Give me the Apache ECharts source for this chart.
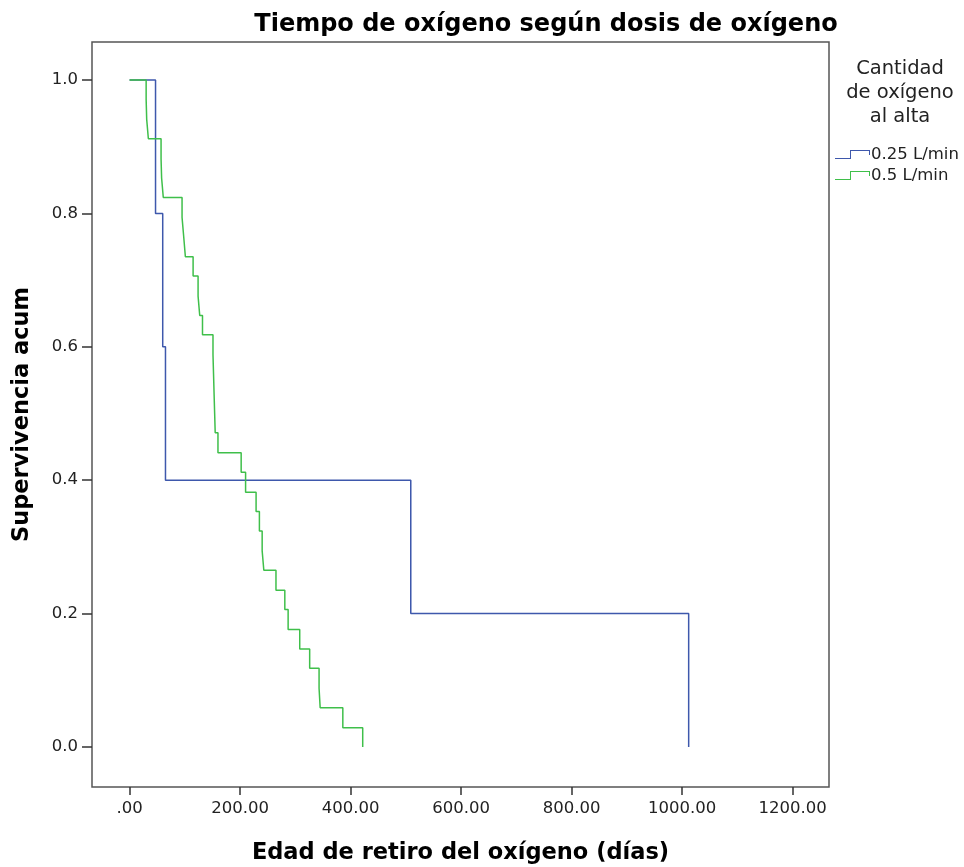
<!DOCTYPE html>
<html>
<head>
<meta charset="utf-8">
<script src="https://cdn.jsdelivr.net/npm/echarts@6/dist/echarts.min.js"></script>
<style>
  html, body { margin: 0; padding: 0; background: #fff; }
  #chart { width: 964px; height: 867px; }
</style>
</head>
<body>
<div id="chart"></div>
<script>
// tiempos (días) y supervivencia acumulada después de cada evento
const blueTimes = [0, 47, 60, 65, 509, 1012]
const blueSurv = [1.0, 0.8, 0.6, 0.4, 0.2, 0.0]

const greenTimes = [0, 30, 31, 34, 57, 58, 61, 95, 98, 101, 115, 124, 127, 132,
  151, 152, 153, 154, 155, 160, 202, 210, 229, 235, 240, 243, 265, 281, 287,
  308, 326, 343, 345, 386, 422]
const greenSurv = [1.0, 0.971, 0.941, 0.912, 0.882, 0.853, 0.824, 0.794, 0.765,
  0.735, 0.706, 0.676, 0.647, 0.618, 0.588, 0.559, 0.529, 0.5, 0.471, 0.441,
  0.412, 0.382, 0.353, 0.324, 0.294, 0.265, 0.235, 0.206, 0.176, 0.147, 0.118,
  0.088, 0.059, 0.029, 0.0]

const xTicks = [0, 200, 400, 600, 800, 1000, 1200]
const yTicks = [0, 0.2, 0.4, 0.6, 0.8, 1.0]
const seriesNames = ['0.25 L/min', '0.5 L/min']

const font = 'DejaVu Sans, sans-serif'
const zip = (xs, ys) => xs.map((x, i) => [x, ys[i]])
const stepIcon = 'path://M0,8 L15,8 L15,0 L35,0 L35,5 L34,5 L34,1 L16,1 L16,9 L0,9 Z'

const chart = echarts.init(document.getElementById('chart'))
chart.setOption({
  backgroundColor: '#fff',
  animation: false,
  title: [
    {
      text: 'Tiempo de oxígeno según dosis de oxígeno',
      left: 541,
      top: 8,
      textAlign: 'center',
      textStyle: { fontFamily: font, fontSize: 24, fontWeight: 'bold', color: '#000' }
    },
    {
      text: 'Cantidad\nde oxígeno\nal alta',
      left: 895,
      top: 52,
      textAlign: 'center',
      textStyle: { fontFamily: font, fontSize: 19.5, fontWeight: 'normal', color: '#222', lineHeight: 24 }
    }
  ],
  legend: {
    data: seriesNames,
    orient: 'vertical',
    left: 830,
    top: 141,
    itemGap: 4,
    itemWidth: 35,
    itemHeight: 9,
    icon: stepIcon,
    textStyle: { fontFamily: font, fontSize: 16.5, color: '#222', padding: [0, 0, 0, -4] }
  },
  grid: {
    left: 92,
    right: 135,
    top: 42,
    bottom: 80,
    containLabel: false,
    outerBoundsMode: 'none',
    show: true,
    borderColor: '#555',
    borderWidth: 1.5
  },
  xAxis: {
    type: 'value',
    min: -68,
    max: 1266,
    name: 'Edad de retiro del oxígeno (días)',
    nameLocation: 'middle',
    nameGap: 55,
    nameTextStyle: { fontFamily: font, fontSize: 22.5, fontWeight: 'bold', color: '#000' },
    axisLine: { show: false, onZero: false },
    axisTick: { show: true, length: 8, customValues: xTicks, lineStyle: { color: '#333', width: 1.5 } },
    axisLabel: {
      customValues: xTicks,
      margin: 13,
      fontFamily: font,
      fontSize: 16.5,
      color: '#222',
      formatter: v => (v === 0 ? '.00' : v.toFixed(2))
    },
    splitLine: { show: false }
  },
  yAxis: {
    type: 'value',
    min: -0.06,
    max: 1.057,
    name: 'Supervivencia acum',
    nameLocation: 'middle',
    nameGap: 58,
    nameTextStyle: { fontFamily: font, fontSize: 22.5, fontWeight: 'bold', color: '#000' },
    axisLine: { show: false, onZero: false },
    axisTick: { show: true, length: 10, customValues: yTicks, lineStyle: { color: '#333', width: 1.5 } },
    axisLabel: {
      customValues: yTicks,
      margin: 14,
      fontFamily: font,
      fontSize: 16.5,
      color: '#222',
      formatter: v => v.toFixed(1)
    },
    splitLine: { show: false }
  },
  series: [
    {
      name: seriesNames[0],
      type: 'line',
      step: 'end',
      data: zip(blueTimes, blueSurv),
      showSymbol: false,
      symbol: 'none',
      color: '#3e58ac',
      lineStyle: { color: '#3e58ac', width: 1.5 }
    },
    {
      name: seriesNames[1],
      type: 'line',
      step: 'end',
      data: zip(greenTimes, greenSurv),
      showSymbol: false,
      symbol: 'none',
      color: '#3fbf4a',
      lineStyle: { color: '#3fbf4a', width: 1.5 }
    }
  ]
})
</script>
</body>
</html>
